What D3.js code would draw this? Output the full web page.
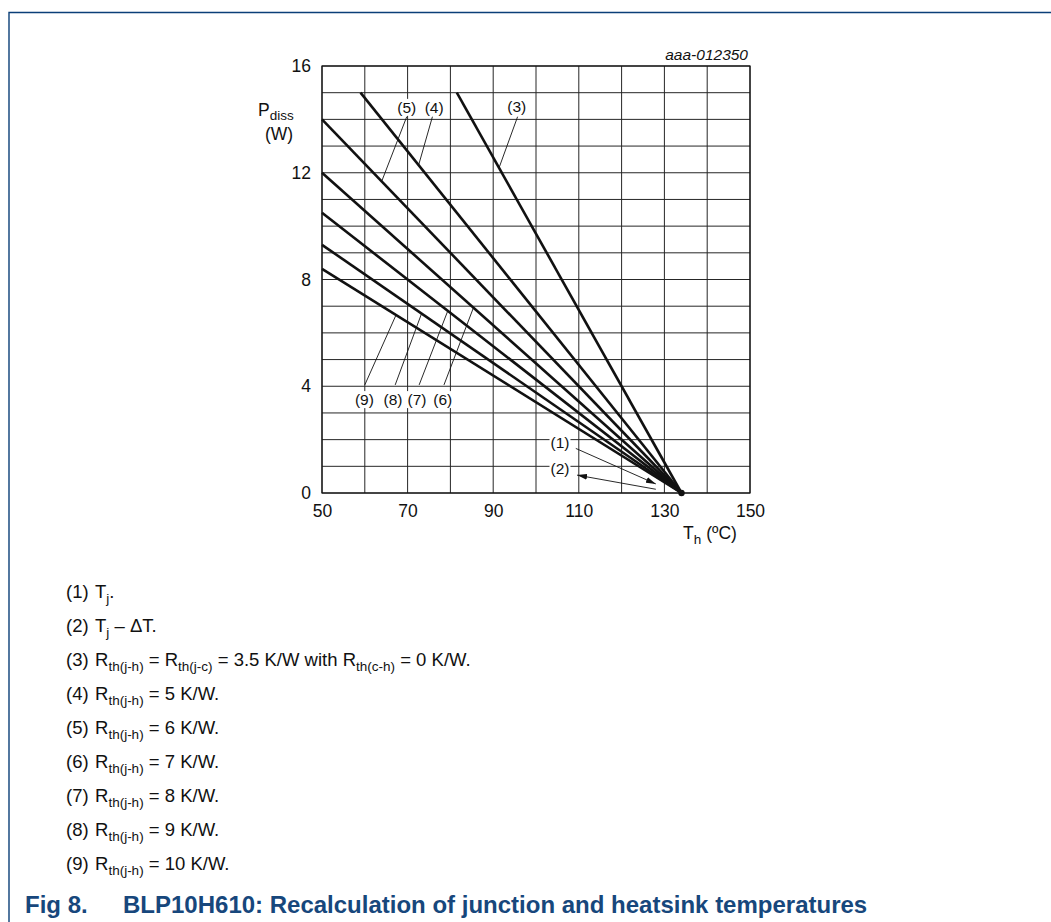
<!DOCTYPE html>
<html>
<head>
<meta charset="utf-8">
<script src="https://cdn.jsdelivr.net/npm/d3@7"></script>
<style>
  body { margin: 0; background: #fff; }
  svg { display: block; font-family: "Liberation Sans", Arial, sans-serif; }
</style>
</head>
<body>
<svg id="chart" width="1051" height="922"></svg>
<script>
// chart data
const xTicks = [50, 70, 90, 110, 130, 150];
const yTicks = [0, 4, 8, 12, 16];
const tjPoint = [134, 0];

// upper end of each curve (Th, Pdiss); every curve ends in tjPoint
const curveIds = ['(3)', '(4)', '(5)', '(6)', '(7)', '(8)', '(9)'];
const curveStartT = [81.5, 59, 50, 50, 50, 50, 50];
const curveStartP = [15, 15, 14, 12, 10.5, 9.3, 8.4];

// curve labels: label position, leader start, leader end (data units)
const labelIds = ['(5)', '(4)', '(3)', '(9)', '(8)', '(7)', '(6)'];
const labelT = [69.8, 76.2, 95.5, 59.9, 66.6, 72.2, 78.2];
const labelP = [14.45, 14.45, 14.5, 3.5, 3.5, 3.5, 3.5];
const leaderFrom = [[69.8, 14.1], [75.8, 14.1], [95.7, 14.1], [60.0, 4.05], [67.1, 4.05], [72.7, 4.05], [78.5, 4.05]];
const leaderTo = [[64, 11.7], [72.6, 12.3], [91.4, 12.2], [67.3, 6.67], [73.3, 6.74], [79.4, 6.83], [85.4, 6.95]];

// Tj and Tj - dT arrows
const arrowIds = ['(1)', '(2)'];
const arrowLabelT = [105.6, 105.6];
const arrowLabelP = [1.9, 0.9];
const arrowFrom = [[109.3, 1.67], [128, 0.14]];
const arrowTo = [[128, 0.34], [109.6, 0.67]];

const legendNums = ['(1)', '(2)', '(3)', '(4)', '(5)', '(6)', '(7)', '(8)', '(9)'];
const legendTexts = [
  [['T'], ['j', 1], ['.']],
  [['T'], ['j', 1], [' \u2013 \u0394T.']],
  [['R'], ['th(j-h)', 1], [' = R'], ['th(j-c)', 1], [' = 3.5 K/W with R'], ['th(c-h)', 1], [' = 0 K/W.']],
  [['R'], ['th(j-h)', 1], [' = 5 K/W.']],
  [['R'], ['th(j-h)', 1], [' = 6 K/W.']],
  [['R'], ['th(j-h)', 1], [' = 7 K/W.']],
  [['R'], ['th(j-h)', 1], [' = 8 K/W.']],
  [['R'], ['th(j-h)', 1], [' = 9 K/W.']],
  [['R'], ['th(j-h)', 1], [' = 10 K/W.']]
];

const svg = d3.select('#chart');
const x = d3.scaleLinear().domain([50, 150]).range([322, 750]);
const y = d3.scaleLinear().domain([0, 16]).range([493, 66]);

// page frame
svg.append('path')
  .attr('d', 'M9,922V12.5H1051')
  .attr('fill', 'none')
  .attr('stroke', '#0b3f78')
  .attr('stroke-width', 1.4);

// grid
const grid = svg.append('g').attr('stroke', '#262626').attr('stroke-width', 1);
grid.selectAll('.vg').data(d3.range(50, 151, 10)).enter().append('line')
  .attr('x1', d => x(d)).attr('x2', d => x(d))
  .attr('y1', y(0)).attr('y2', y(16));
grid.selectAll('.hg').data(d3.range(0, 17, 1)).enter().append('line')
  .attr('x1', x(50)).attr('x2', x(150))
  .attr('y1', d => y(d)).attr('y2', d => y(d));
svg.append('rect')
  .attr('x', x(50)).attr('y', y(16))
  .attr('width', x(150) - x(50)).attr('height', y(0) - y(16))
  .attr('fill', 'none').attr('stroke', '#111').attr('stroke-width', 1.2);

// axes (labels only)
const xAxis = svg.append('g').attr('transform', 'translate(0,' + y(0) + ')')
  .call(d3.axisBottom(x).tickValues(xTicks).tickSize(0).tickPadding(12));
const yAxis = svg.append('g').attr('transform', 'translate(' + x(50) + ',0)')
  .call(d3.axisLeft(y).tickValues(yTicks).tickSize(0).tickPadding(11));
[xAxis, yAxis].forEach(a => {
  a.select('.domain').remove();
  a.selectAll('text').attr('font-size', 17.5).attr('fill', '#111')
    .attr('font-family', '"Liberation Sans", Arial, sans-serif');
});

// axis titles
const yt = svg.append('text').attr('x', 258).attr('y', 116).attr('font-size', 17.5).attr('fill', '#111');
yt.append('tspan').text('P');
yt.append('tspan').attr('dy', 4).attr('font-size', 13.5).text('diss');
svg.append('text').attr('x', 279).attr('y', 139.5).attr('text-anchor', 'middle')
  .attr('font-size', 17.5).attr('fill', '#111').text('(W)');
const xt = svg.append('text').attr('x', 710).attr('y', 539).attr('text-anchor', 'middle')
  .attr('font-size', 17.5).attr('fill', '#111');
xt.append('tspan').text('T');
xt.append('tspan').attr('dy', 5).attr('font-size', 13.5).text('h');
xt.append('tspan').attr('dy', -5).text(' (ºC)');

svg.append('text').attr('x', 748).attr('y', 60).attr('text-anchor', 'end')
  .attr('font-size', 15.5).attr('font-style', 'italic').attr('fill', '#111').text('aaa-012350');

// labels with white background
function boxedLabel(t, p, txt) {
  const g = svg.append('g');
  const tx = g.append('text').attr('x', x(t)).attr('y', y(p) + 5.5)
    .attr('text-anchor', 'middle').attr('font-size', 15.5).attr('fill', '#111').text(txt);
  const b = tx.node().getBBox();
  g.insert('rect', 'text').attr('x', b.x - 1).attr('y', b.y)
    .attr('width', b.width + 2).attr('height', b.height).attr('fill', '#fff');
}

// leaders
const leaders = svg.append('g').attr('stroke', '#111').attr('stroke-width', 0.9);
leaderFrom.forEach((f, i) => {
  leaders.append('line')
    .attr('x1', x(f[0])).attr('y1', y(f[1]))
    .attr('x2', x(leaderTo[i][0])).attr('y2', y(leaderTo[i][1]));
});
labelIds.forEach((id, i) => boxedLabel(labelT[i], labelP[i], id));

// curves
const line = d3.line().x(d => x(d[0])).y(d => y(d[1]));
curveIds.forEach((id, i) => {
  svg.append('path')
    .datum([[curveStartT[i], curveStartP[i]], tjPoint])
    .attr('d', line)
    .attr('fill', 'none')
    .attr('stroke', '#111')
    .attr('stroke-width', 2.6)
    .attr('stroke-linecap', 'butt');
});
svg.append('circle').attr('cx', x(tjPoint[0])).attr('cy', y(tjPoint[1])).attr('r', 3.2).attr('fill', '#111');

// arrows (1) and (2)
svg.append('defs').append('marker')
  .attr('id', 'arr').attr('viewBox', '0 0 10 6').attr('refX', 10).attr('refY', 3)
  .attr('markerWidth', 10).attr('markerHeight', 6).attr('markerUnits', 'userSpaceOnUse')
  .attr('orient', 'auto')
  .append('path').attr('d', 'M0,0L10,3L0,6Z').attr('fill', '#111');
arrowFrom.forEach((f, i) => {
  svg.append('line')
    .attr('x1', x(f[0])).attr('y1', y(f[1]))
    .attr('x2', x(arrowTo[i][0])).attr('y2', y(arrowTo[i][1]))
    .attr('stroke', '#111').attr('stroke-width', 0.9)
    .attr('marker-end', 'url(#arr)');
  boxedLabel(arrowLabelT[i], arrowLabelP[i], arrowIds[i]);
});

// legend
legendNums.forEach((n, i) => {
  const yy = 597.5 + i * 34;
  svg.append('text').attr('x', 66).attr('y', yy).attr('font-size', 18.5).attr('fill', '#111').text(n);
  const t = svg.append('text').attr('x', 95).attr('y', yy).attr('font-size', 18.5).attr('fill', '#111');
  let sub = false;
  legendTexts[i].forEach(seg => {
    const ts = t.append('tspan').text(seg[0]);
    if (seg[1] && !sub) { ts.attr('dy', 5.5).attr('font-size', 13.5); sub = true; }
    else if (seg[1]) { ts.attr('font-size', 13.5); }
    else if (sub) { ts.attr('dy', -5.5); sub = false; }
  });
});

// caption
const cap = svg.append('text').attr('y', 913).attr('font-size', 24).attr('font-weight', 'bold').attr('fill', '#17477c');
cap.append('tspan').attr('x', 25).text('Fig 8.');
cap.append('tspan').attr('x', 123).text('BLP10H610: Recalculation of junction and heatsink temperatures');
</script>
</body>
</html>
